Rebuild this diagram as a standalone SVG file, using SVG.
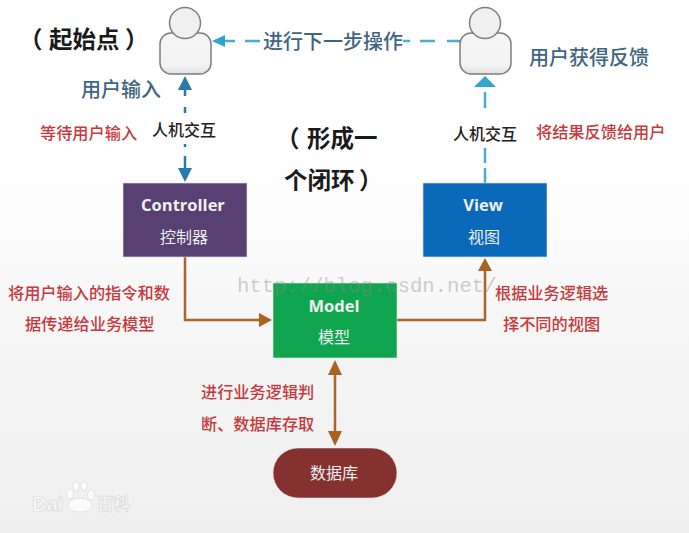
<svg xmlns="http://www.w3.org/2000/svg" width="689" height="533" viewBox="0 0 689 533">
<style>
text{font-family:"Noto Sans CJK SC","Liberation Sans",sans-serif}
.bl{font-weight:700;fill:#1a1a1a;font-size:23.5px}
.blue{font-weight:500;fill:#3f6580;font-size:20px}
.red{font-weight:500;fill:#c63a3e;font-size:16.2px}
.hm{font-weight:500;fill:#222;font-size:16px;text-anchor:middle}
.en{font-family:"Open Sans","Liberation Sans",sans-serif;font-weight:700;fill:#f0f0f0;font-size:16.5px;text-anchor:middle}
.zh{font-weight:400;fill:#eeeeee;font-size:16px;text-anchor:middle}
.box{stroke:#e8e8e8;stroke-width:.6}
.head{fill:#f1f0f0;stroke:#7f7f7f;stroke-width:1.5}
.body{fill:url(#pg);stroke:#7f7f7f;stroke-width:1.5}
.wm{font-family:"Liberation Mono",monospace;fill:#8a8a8a;fill-opacity:.42;font-size:20.6px}
.cy{fill:none;stroke:#4aaed0;stroke-width:2.5}
.dk{fill:none;stroke:#2b7ba8;stroke-width:2.5}
.br{fill:none;stroke:#a9652b;stroke-width:2.5}
</style>
<defs>
<linearGradient id="bg" x1="0" y1="0" x2="0" y2="1">
<stop offset="0" stop-color="#ffffff"/><stop offset=".3" stop-color="#ffffff"/><stop offset=".6" stop-color="#f6f6f6"/><stop offset="1" stop-color="#efefef"/>
</linearGradient>
<linearGradient id="pg" x1="0" y1="0" x2="0" y2="1">
<stop offset="0" stop-color="#f6f6f6"/><stop offset=".8" stop-color="#f4f3f3"/><stop offset="1" stop-color="#dedede"/>
</linearGradient>
</defs>
<rect width="689" height="533" fill="url(#bg)"/>
<g id="connectors">
<path class="cy" d="M222 41H235M245 41H260M403 41H410M420 41H435M447 41H460"/>
<path d="M212 41L225 35V47Z" fill="#2ea6cf"/>
<path class="dk" d="M185 86V96M185 107V113M185 144V147M185 156V172"/>
<path d="M185 76L192 90H178Z" fill="#2b7ba8"/>
<path d="M185 182L178 168H192Z" fill="#2b7ba8"/>
<path class="cy" d="M485 183V168M485 163V148M485 108V92"/>
<path d="M485 76L496 87H474Z" fill="#33a4cc"/>
<path class="br" d="M185 257V320H262"/>
<path d="M272 320L259 313V327Z" fill="#a9621f"/>
<path class="br" d="M397 320H485V268"/>
<path d="M485 258L478 271H492Z" fill="#a9621f"/>
<path class="br" d="M335 372V434"/>
<path d="M335 360L328 375H342Z" fill="#a9621f"/>
<path d="M335 446L328 431H342Z" fill="#a9621f"/>
</g>
<g id="user-start">
<rect class="body" x="160" y="33" width="51" height="41" rx="11"/>
<circle class="head" cx="185" cy="23" r="15.5"/>
</g>
<g id="user-end">
<rect class="body" x="460" y="33" width="51" height="41" rx="11"/>
<circle class="head" cx="485" cy="23" r="15.5"/>
</g>
<g id="controller">
<rect class="box" x="123" y="183" width="124" height="74" fill="#584072"/>
<text class="en" x="183" y="211">Controller</text>
<text class="zh" x="184" y="243">控制器</text>
</g>
<g id="view">
<rect class="box" x="423" y="183" width="124" height="74" fill="#0a69b8"/>
<text class="en" x="483" y="211">View</text>
<text class="zh" x="484" y="243">视图</text>
</g>
<g id="model">
<rect class="box" x="273" y="283" width="124" height="75" fill="#10a650"/>
<text class="en" x="334" y="312">Model</text>
<text class="zh" x="334" y="343">模型</text>
</g>
<g id="database">
<rect class="box" x="273" y="448" width="124" height="50" rx="25" fill="#843130"/>
<text class="zh" x="334" y="479">数据库</text>
</g>
<g id="labels">
<text class="bl" y="48"><tspan x="19">（</tspan><tspan x="49">起始点</tspan><tspan x="125">）</tspan></text>
<text class="bl" y="147"><tspan x="276">（</tspan><tspan x="307">形成一</tspan></text>
<text class="bl" y="189"><tspan x="284">个闭环</tspan><tspan x="359">）</tspan></text>
<text class="blue" x="263" y="49">进行下一步操作</text>
<text class="blue" x="81" y="97">用户输入</text>
<text class="blue" x="529" y="65">用户获得反馈</text>
<text class="hm" x="184" y="136">人机交互</text>
<text class="hm" x="485" y="140">人机交互</text>
<text class="red" x="40" y="139">等待用户输入</text>
<text class="red" x="536" y="138">将结果反馈给用户</text>
<text class="red" x="8" y="299">将用户输入的指令和数</text>
<text class="red" x="25" y="330">据传递给业务模型</text>
<text class="red" x="495" y="299">根据业务逻辑选</text>
<text class="red" x="503" y="330">择不同的视图</text>
<text class="red" x="201" y="398">进行业务逻辑判</text>
<text class="red" x="201" y="430">断、数据库存取</text>
</g>
<text class="wm" x="237" y="291.5">http://blog.csdn.net/</text>
<g id="watermark" fill="#fbfbfb" stroke="#d4d4d4" stroke-width=".6">
<text x="32" y="511" font-size="20" font-weight="700" style="font-family:'Liberation Sans',sans-serif">Bai</text>
<ellipse cx="70" cy="494" rx="3.5" ry="5"/><ellipse cx="76" cy="486" rx="3" ry="4.5"/><ellipse cx="84" cy="486" rx="3" ry="4.5"/><ellipse cx="91" cy="495" rx="3.5" ry="5"/><ellipse cx="80" cy="505" rx="12" ry="7"/>
<text x="97" y="510" font-size="16.5" font-weight="700">百科</text>
</g>
</svg>
